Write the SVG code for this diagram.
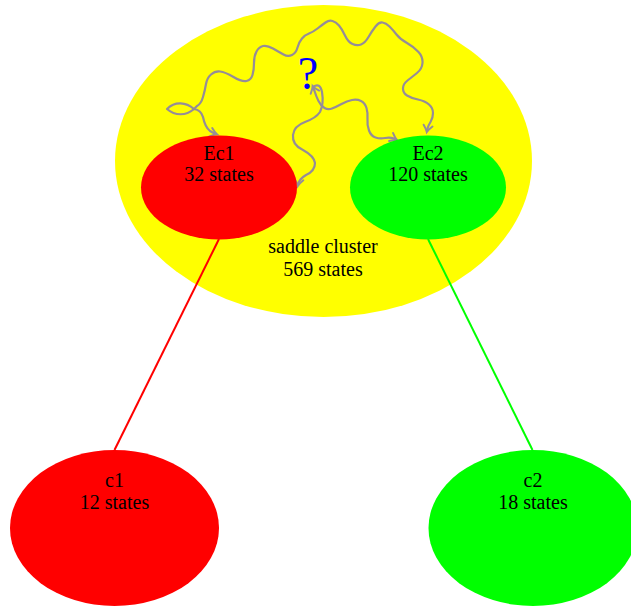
<svg xmlns="http://www.w3.org/2000/svg" width="631" height="607" viewBox="0 0 631 607">
<style>
.lbl{font-family:"Liberation Serif","DejaVu Serif",serif;font-size:20px;fill:#000;text-anchor:middle}
.snake{fill:none;stroke:#958d98;stroke-width:2.2;stroke-linecap:round;stroke-linejoin:round}
</style>
<defs>
<marker id="arr" viewBox="-8 -8 16 16" markerWidth="16" markerHeight="16" refX="0" refY="0" orient="auto-start-reverse" markerUnits="userSpaceOnUse">
<path d="M-5.5,-4.5 Q-1.5,-1 1,0 Q-1.5,1 -5.5,4.5" fill="none" stroke="#958d98" stroke-width="2" stroke-linecap="round"/>
</marker>
</defs>
<rect width="631" height="607" fill="#fff"/>
<g id="saddle">
<ellipse cx="323.5" cy="161" rx="208.5" ry="156" fill="#ffff00"/>
<text class="lbl" x="323" y="253">saddle cluster</text>
<text class="lbl" x="323" y="276">569 states</text>
</g>
<g id="connectors">
<line x1="219" y1="239" x2="114.5" y2="450" stroke="#ff0000" stroke-width="2"/>
<line x1="428" y1="239" x2="532.5" y2="450" stroke="#00ff00" stroke-width="2"/>
<path class="snake" d="M194,109 C186,102 175,101 167,109 C175,116 186,116 194,109"/>
<path class="snake" marker-end="url(#arr)" d="M194,109 Q201,110 203,117 Q205,127 210,131 Q213,133 216,134"/>
<path class="snake" marker-end="url(#arr)" d="M194,109 L197,106 Q201,104 203,97 Q205,90 206,84 Q207,78 211,74.5 Q215,71 220,71.5 Q225,72 233.5,77 Q242,82 246.5,81 Q251,80 252.5,75 Q254,70 254,63 Q254,56 256.5,51.5 Q259,47 263,46 Q267,45 273,48.5 Q279,52 283.5,54.5 Q288,57 292,55 Q296,53 297.5,47.5 Q299,42 302,38.5 Q305,35 309,33.5 Q313,32 317.5,28.5 Q322,25 325.5,22.5 Q329,20 332.5,21 Q336,22 339,25.5 Q342,29 345,35.5 Q348,42 352.5,44 Q357,46 361,44.5 Q365,43 368.5,37 Q372,31 375.5,26.5 Q379,22 382.5,22.5 Q386,23 389.5,26.5 Q393,30 396.5,34.5 Q400,39 407,43 Q414,47 418.5,52 Q423,57 422.5,63 Q422,69 417,73 Q412,77 407.5,80.5 Q403,84 403,88.5 Q403,93 407,95.5 Q411,98 418,99.5 Q425,101 429,104.5 Q433,108 433,113 Q433,118 430.5,122 Q428,126 427.5,128.5 L427,131"/>
<path class="snake" marker-start="url(#arr)" marker-end="url(#arr)" d="M313,87 L314.5,91 Q316,96 318.5,101 Q321,106 324.5,108 Q328,110 332,108.5 Q336,107 341.5,104 Q347,101 352,100 Q357,99 361,101 Q365,103 366.5,108 Q368,113 367.5,119 Q367,125 369,130.5 Q371,136 375.5,137.5 Q380,139 385,138 Q390,137 394,138.5 L396,139.5"/>
<path class="snake" marker-end="url(#arr)" d="M313,87 Q320,82 322,92 Q324,104 320,112 Q316,118 305,122 Q294,126 293,135 Q292,145 303,150 Q314,156 315,163 Q315,171 306,175 Q299,179 298,185"/>
</g>
<g id="question">
<text x="308" y="89" font-family="Liberation Serif,DejaVu Serif,serif" font-size="46" fill="#0000ff" text-anchor="middle">?</text>
</g>
<g id="Ec1">
<ellipse cx="219" cy="187.5" rx="78" ry="52" fill="#ff0000"/>
<text class="lbl" x="219" y="160">Ec1</text>
<text class="lbl" x="219" y="181">32 states</text>
</g>
<g id="Ec2">
<ellipse cx="428" cy="187.5" rx="78" ry="52" fill="#00ff00"/>
<text class="lbl" x="428" y="160">Ec2</text>
<text class="lbl" x="428" y="181">120 states</text>
</g>
<g id="c1">
<ellipse cx="114.5" cy="528" rx="104.5" ry="78" fill="#ff0000"/>
<text class="lbl" x="114.5" y="487">c1</text>
<text class="lbl" x="114.5" y="509">12 states</text>
</g>
<g id="c2">
<ellipse cx="533" cy="528" rx="104.5" ry="78" fill="#00ff00"/>
<text class="lbl" x="533" y="487">c2</text>
<text class="lbl" x="533" y="509">18 states</text>
</g>
</svg>
